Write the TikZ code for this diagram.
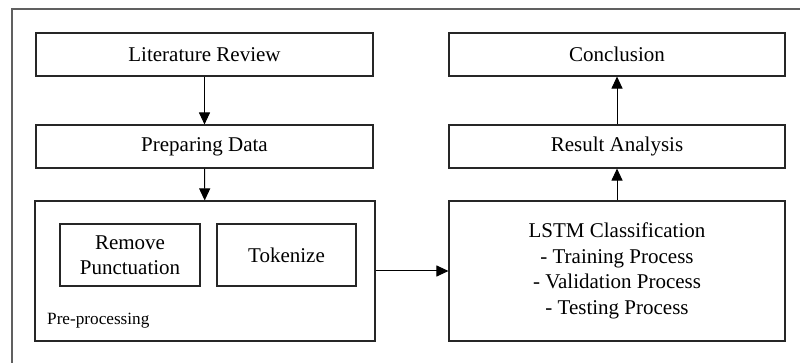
\documentclass[tikz,border=0pt]{standalone}
\usepackage{fontspec}
\setmainfont{Liberation Serif}
\usetikzlibrary{arrows.meta}
\begin{document}
\begin{tikzpicture}[x=1pt,y=-1pt,
  box/.style={draw=black!85,line width=1.1pt,inner sep=0pt,align=center,
    font=\fontsize{21}{25.5}\selectfont},
  conn/.style={line width=1pt,-{Triangle[length=12pt,width=11pt]}}]
\useasboundingbox (0,0) rectangle (800,363);
\draw[gray!75!black,line width=1.5pt] (12,363) -- (12,9) -- (800,9);
\node[box,minimum width=337pt,minimum height=43pt] (lit) at (204.5,54.5) {Literature Review};
\node[box,minimum width=337pt,minimum height=43pt] (prep) at (204.5,146.5) {Preparing Data};
\node[box,minimum width=340pt,minimum height=140pt] (pre) at (205,271) {};
\node[box,minimum width=140pt,minimum height=62pt] (rem) at (130,255) {Remove\\Punctuation};
\node[box,minimum width=139pt,minimum height=62pt] (tok) at (286.5,255) {Tokenize};
\node[anchor=west,inner sep=0pt,font=\fontsize{17.2}{20}\selectfont] (lbl) at (47,321) {Pre-processing};
\node[box,minimum width=336pt,minimum height=43pt] (con) at (617,54.5) {Conclusion};
\node[box,minimum width=336pt,minimum height=43pt] (res) at (617,146.5) {Result Analysis};
\node[box,minimum width=336pt,minimum height=140pt] (lstm) at (617,271) {LSTM Classification\\- Training Process\\- Validation Process\\- Testing Process};
\draw[conn] (lit) -- (prep);
\draw[conn] (prep) -- (pre);
\draw[conn] (pre) -- (lstm);
\draw[conn] (lstm) -- (res);
\draw[conn] (res) -- (con);
\end{tikzpicture}
\end{document}
